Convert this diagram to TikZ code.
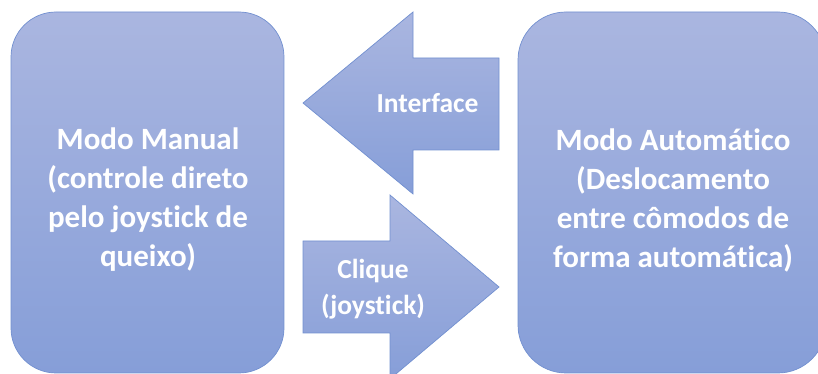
\documentclass[tikz,border=0pt]{standalone}
\usepackage{fontspec}
\setmainfont{Carlito}[RawFeature={-liga;-clig;-calt}]
\definecolor{fillTop}{RGB}{170,182,224}
\definecolor{fillBot}{RGB}{134,158,216}
\definecolor{edgeBlue}{RGB}{114,144,208}
\tikzset{
  modebox/.style={rectangle, draw=edgeBlue, line width=0.7pt,
    top color=fillTop, bottom color=fillBot, inner sep=0pt},
  modetext/.style={text=white, font=\bfseries\fontsize{31}{39}\selectfont,
    align=center, inner sep=0pt},
  blockarrow/.style={draw=edgeBlue, line width=0.7pt,
    top color=fillTop, bottom color=fillBot},
  arrowtext/.style={text=white, font=\bfseries\fontsize{27.5}{36}\selectfont,
    align=center, inner sep=0pt}
}
\begin{document}
\begin{tikzpicture}[x=1pt,y=1pt]
  \useasboundingbox (0,0) rectangle (818,374);

  % the two operating modes
  \node[modebox, rounded corners=45pt, minimum width=273pt, minimum height=361pt]
    (manual) at (147.5,181.5) {};
  \node[modetext] (manualtxt) at (148,174)
    {Modo Manual\\(controle direto\\pelo joystick de\\queixo)};
  \node[modebox, rounded corners=48pt, minimum width=308pt, minimum height=361pt]
    (auto) at (672,181.5) {};
  \node[modetext] (autotxt) at (673,174)
    {Modo Automático\\(Deslocamento\\entre cômodos de\\forma automática)};

  % block arrow pointing left: automatic -> manual
  \draw[blockarrow] (303,271) -- (413,362) -- (413,316) -- (499,316)
    -- (499,224) -- (413,224) -- (413,180) -- cycle;
  \node[arrowtext] (iface) at (427.5,271) {Interface};

  % block arrow pointing right: manual -> automatic
  \draw[blockarrow] (303,133) -- (390,133) -- (390,179) -- (499,87)
    -- (390,-5) -- (390,41) -- (303,41) -- cycle;
  \node[arrowtext] (click) at (373,85) {Clique\\(joystick)};
\end{tikzpicture}
\end{document}
